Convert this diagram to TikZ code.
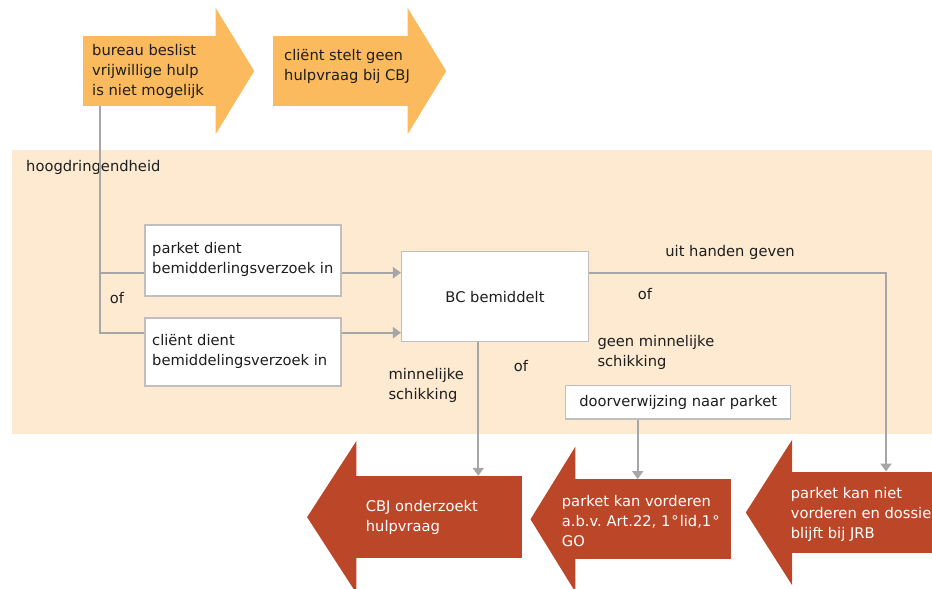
\documentclass[tikz,border=0pt]{standalone}
\usepackage{fontspec}
\setmainfont{DejaVu Sans}
\usetikzlibrary{arrows.meta,calc}
\frenchspacing

\definecolor{orangearrow}{RGB}{251,186,94}
\definecolor{redarrow}{RGB}{187,71,40}
\definecolor{band}{RGB}{253,234,209}
\definecolor{connector}{RGB}{166,166,166}
\definecolor{boxline}{RGB}{191,191,191}
\definecolor{ink}{RGB}{30,30,30}

\begin{document}
\begin{tikzpicture}[x=1pt,y=-1pt,
  txt/.style={font=\fontsize{14.7}{20}\selectfont, text=ink, align=left, inner sep=0pt},
  wtxt/.style={txt, text=white},
  obody/.style={fill=orangearrow, draw=none, inner sep=0pt},
  rbody/.style={fill=redarrow, draw=none, inner sep=0pt},
  box/.style={draw=boxline, line width=1.5pt, fill=white, inner sep=0pt,
    font=\fontsize{14.7}{20}\selectfont, text=ink},
  conn/.style={draw=connector, line width=2pt},
  arr/.style={conn, -{Triangle[width=11pt,length=8pt]}}]

\clip (0,0) rectangle (932,589);

% urgency band
\fill[band] (12,150) rectangle (940,434);

% orange arrows at the top
\node[obody, minimum width=133pt, minimum height=70pt] (a1) at (149.5,71) {};
\fill[orangearrow] ($(a1.east)+(-0.5,-63)$) -- ($(a1.east)+(38,0)$) -- ($(a1.east)+(-0.5,63)$) -- cycle;
\node[txt, anchor=west] (t1) at (92,71) {bureau beslist\\vrijwillige hulp\\is niet mogelijk};

\node[obody, minimum width=135pt, minimum height=70pt] (a2) at (340.5,71) {};
\fill[orangearrow] ($(a2.east)+(-0.5,-63)$) -- ($(a2.east)+(38,0)$) -- ($(a2.east)+(-0.5,63)$) -- cycle;
\node[txt, anchor=west] (t2) at (284,66.5) {cliënt stelt geen\\hulpvraag bij CBJ};

\node[txt, anchor=west] (hd) at (26,167.5) {hoogdringendheid};

% request boxes
\node[box, minimum width=196pt, minimum height=71pt] (b1) at (243,260.5) {};
\node[txt, anchor=west] (b1t) at (152,259.7) {parket dient\\bemidderlingsverzoek in};
\node[box, minimum width=196pt, minimum height=68pt] (b2) at (243,352) {};
\node[txt, anchor=west] (b2t) at (152,351.7) {cliënt dient\\bemiddelingsverzoek in};

% mediation box and referral box
\node[box, minimum width=186.6pt, minimum height=90pt] (bc) at (495,296.7) {BC bemiddelt};
\node[box, minimum width=225pt, minimum height=33.7pt] (dv) at (678.2,402.3) {doorverwijzing naar parket};

% labels
\node[txt] (of1) at (117,298.3) {of};
\node[txt] (uh) at (730,252.7) {uit handen geven};
\node[txt] (of2) at (645,294) {of};
\node[txt, anchor=west] (gm) at (597.3,352) {geen minnelijke\\schikking};
\node[txt] (of3) at (521,366) {of};
\node[txt, anchor=west] (ms) at (388.3,385.5) {minnelijke\\schikking};

% red outcome arrows
\node[rbody, minimum width=165.7pt, minimum height=82.3pt] (r1) at (438.85,517.15) {};
\fill[redarrow] ($(r1.west)+(0.5,-76)$) -- ($(r1.west)+(-48.7,0)$) -- ($(r1.west)+(0.5,76)$) -- cycle;
\node[wtxt, anchor=west] (r1t) at (365.7,517.3) {CBJ onderzoekt\\hulpvraag};

\node[rbody, minimum width=156pt, minimum height=80pt] (r2) at (653,519.3) {};
\fill[redarrow] ($(r2.west)+(0.5,-72.6)$) -- ($(r2.west)+(-44.3,0)$) -- ($(r2.west)+(0.5,72.6)$) -- cycle;
\node[wtxt, anchor=west] (r2t) at (561.7,521) {parket kan vorderen\\a.b.v. Art.22, 1\kern1pt°\kern1pt lid,1\kern1pt°\\GO};

\node[rbody, minimum width=148.3pt, minimum height=81.6pt] (r3) at (865.85,512.5) {};
\fill[redarrow] ($(r3.west)+(0.5,-72.5)$) -- ($(r3.west)+(-45.7,0)$) -- ($(r3.west)+(0.5,72.5)$) -- cycle;
\node[wtxt, anchor=west] (r3t) at (790.7,514) {parket kan niet\\vorderen en dossier\\blijft bij JRB};

% connector levels
\coordinate (ya) at (0,272.7);
\coordinate (yb) at (0,332.7);
\coordinate (xl) at (100,0);
\coordinate (xm) at (478.3,0);
\coordinate (xd) at (637.7,0);
\coordinate (xr) at (886,0);

% connectors
\draw[conn] (a1.south -| xl) |- (b2.west |- yb);
\draw[conn] (xl |- ya) -- (b1.west |- ya);
\draw[arr] (b1.east |- ya) -- (bc.west |- ya);
\draw[arr] (b2.east |- yb) -- (bc.west |- yb);
\draw[arr] (bc.south -| xm) -- (r1.north -| xm);
\draw[arr] (bc.east |- ya) -| (r3.north -| xr);
\draw[arr] (dv.south -| xd) -- (r2.north -| xd);
\end{tikzpicture}
\end{document}
